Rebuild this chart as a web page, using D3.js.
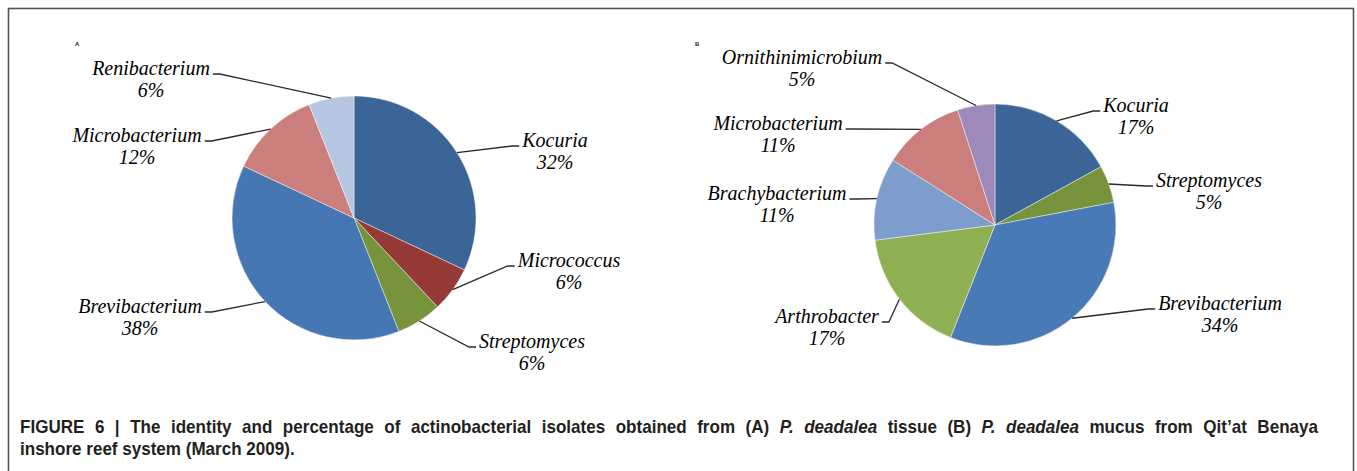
<!DOCTYPE html>
<html>
<head>
<meta charset="utf-8">
<script src="https://cdn.jsdelivr.net/npm/d3@7"></script>
<style>
  html, body { margin: 0; padding: 0; background: #fff; }
  svg { display: block; }
</style>
</head>
<body>
<div id="chart"></div>
<script>
// Panel A: P. deadalea tissue
const generaA = ['Kocuria', 'Micrococcus', 'Streptomyces', 'Brevibacterium', 'Microbacterium', 'Renibacterium'];
const valuesA = [32, 6, 6, 38, 12, 6];
const colorsA = ['#3b6597', '#953a37', '#77933c', '#4777b2', '#cb7f7d', '#b6c6e0'];

// Panel B: P. deadalea mucus
const generaB = ['Kocuria', 'Streptomyces', 'Brevibacterium', 'Arthrobacter', 'Brachybacterium', 'Microbacterium', 'Ornithinimicrobium'];
const valuesB = [17, 5, 34, 17, 11, 11, 5];
const colorsB = ['#3b6597', '#77933c', '#4a7ab5', '#8fb052', '#7d9ecd', '#cb7f7d', '#9d8aba'];

// label placement (offset of label centre / first baseline from pie centre)
const labelOffA = [[201, -71], [215, 49], [178, 130], [-214, 95], [-217, -76], [-203, -143]];
const labelOffB = [[141, -113], [214, -38], [225, 85], [-168, 98], [-218, -25], [-217, -95], [-193, -161]];

const captionLine1 = [
    { t: 'FIGURE 6 | The identity and percentage of actinobacterial isolates obtained from (A)', i: false },
    { t: 'P. deadalea', i: true },
    { t: 'tissue (B)', i: false },
    { t: 'P. deadalea', i: true },
    { t: 'mucus from Qit\u2019at Benaya', i: false }
];
const captionLine2 = 'inshore reef system (March 2009).';

const width = 1357, height = 471;

const svg = d3.select('#chart')
    .append('svg')
    .attr('width', width)
    .attr('height', height);

// frame
svg.append('rect')
    .attr('x', 8.5)
    .attr('y', 8.5)
    .attr('width', 1345)
    .attr('height', 500)
    .attr('fill', 'none')
    .attr('stroke', '#555')
    .attr('stroke-width', 1.6);

function drawPie(opts) {
    const { cx, cy, r, names, values, colors, offsets, letter, letterX } = opts;
    const g = svg.append('g').attr('transform', `translate(${cx},${cy})`);

    const pie = d3.pie().sort(null).value(d => d)(values);
    const arc = d3.arc().innerRadius(0).outerRadius(r);

    g.selectAll('path.slice')
        .data(pie)
        .join('path')
        .attr('class', 'slice')
        .attr('d', arc)
        .attr('fill', (d, i) => colors[i])
        .attr('stroke', '#ffffff')
        .attr('stroke-opacity', 0.55)
        .attr('stroke-width', 0.8);

    // tiny panel letter
    svg.append('text')
        .attr('x', letterX)
        .attr('y', 46)
        .attr('font-family', 'Liberation Sans, Arial, sans-serif')
        .attr('font-size', '6px')
        .attr('font-weight', 'bold')
        .attr('fill', '#222')
        .text(letter);

    pie.forEach((d, i) => {
        const [dx, dy] = offsets[i];
        const lab = g.append('text')
            .attr('x', dx)
            .attr('y', dy)
            .attr('text-anchor', 'middle')
            .attr('font-family', 'Liberation Serif, Times New Roman, serif')
            .attr('font-style', 'italic')
            .attr('font-size', '20px')
            .attr('fill', '#000');
        lab.append('tspan').attr('x', dx).text(names[i]);
        lab.append('tspan').attr('x', dx).attr('dy', 22).text(values[i] + '%');

        // leader: from slice mid-angle on the rim to the side of the label
        const mid = (d.startAngle + d.endAngle) / 2;
        const px = r * Math.sin(mid), py = -r * Math.cos(mid);
        const w = lab.select('tspan').node().getComputedTextLength();
        const right = dx > 0;
        const ex = right ? dx - w / 2 - 3 : dx + w / 2 + 3;
        const ey = dy - 1;
        const elbowX = right ? ex - 7 : ex + 7;

        g.append('path')
            .attr('d', d3.line()([[px, py], [elbowX, ey], [ex, ey]]))
            .attr('fill', 'none')
            .attr('stroke', '#2a2a2a')
            .attr('stroke-width', 1.3);
    });
}

drawPie({ cx: 354, cy: 218, r: 122, names: generaA, values: valuesA, colors: colorsA, offsets: labelOffA, letter: 'A', letterX: 75 });
drawPie({ cx: 995, cy: 225, r: 121, names: generaB, values: valuesB, colors: colorsB, offsets: labelOffB, letter: 'B', letterX: 695 });

// caption: condensed bold sans, first line justified
const capX = 20, capRight = 1318, line2Right = 295, fs = 18;
const cap = svg.append('g')
    .attr('font-family', 'Liberation Sans, Arial, Helvetica, sans-serif')
    .attr('font-weight', 'bold')
    .attr('font-size', fs + 'px')
    .attr('fill', '#231f20');

// horizontal squeeze taken from the unjustified second line
const probe = cap.append('text').text(captionLine2);
const sx = (line2Right - capX) / probe.node().getComputedTextLength();
probe.remove();

const inner = cap.append('g').attr('transform', `scale(${sx},1)`);

inner.append('text')
    .attr('x', capX / sx)
    .attr('y', 455)
    .text(captionLine2);

// split line 1 into words with their style
const words = [];
captionLine1.forEach(p => p.t.split(' ').forEach(w => words.push({ t: w, i: p.i })));
const wordNodes = words.map(w => inner.append('text')
    .attr('y', 433)
    .attr('font-style', w.i ? 'italic' : 'normal')
    .text(w.t));
const widths = wordNodes.map(n => n.node().getComputedTextLength());
const total = d3.sum(widths);
const gap = ((capRight - capX) / sx - total) / (words.length - 1);
let xPos = capX / sx;
wordNodes.forEach((n, k) => {
    n.attr('x', xPos);
    xPos += widths[k] + gap;
});
</script>
</body>
</html>
